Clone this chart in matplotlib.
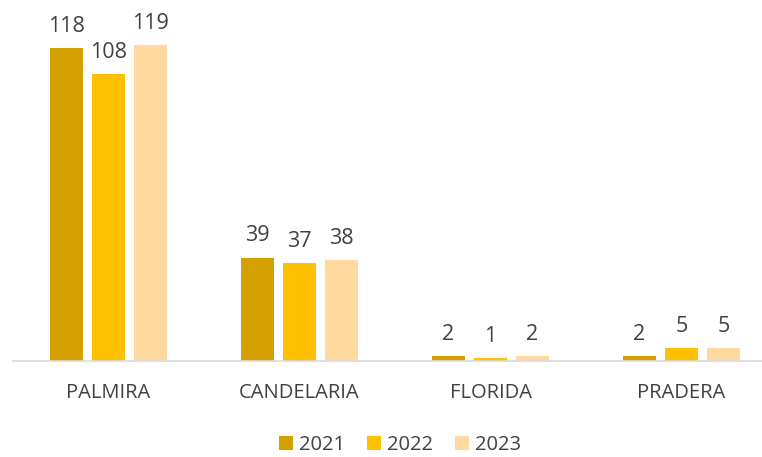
import numpy as np
import matplotlib.pyplot as plt

categories = ["PALMIRA", "CANDELARIA", "FLORIDA", "PRADERA"]
years = ["2021", "2022", "2023"]
v2021 = [118, 39, 2, 2]
v2022 = [108, 37, 1, 5]
v2023 = [119, 38, 2, 5]
colors = ["#D4A000", "#FFC000", "#FFD9A0"]

plt.rcParams['font.family'] = ['Open Sans', 'DejaVu Sans']

W, H = 762, 457
fig = plt.figure(figsize=(W / 100, H / 100), dpi=100)
# axes in pixel units: left 13, bottom 96, width 764, height 345
ax = fig.add_axes([13 / W, 96 / H, 764 / W, 345 / H])

x = np.arange(len(categories))
offs = [-0.22, 0.0, 0.22]
for vals, off, c, yr in zip([v2021, v2022, v2023], offs, colors, years):
    bars = ax.bar(x + off, vals, width=0.173, color=c, label=yr)
    for b, v in zip(bars, vals):
        ax.annotate(str(v), (b.get_x() + b.get_width() / 2, v),
                    xytext=(0, 8), textcoords="offset points",
                    ha="center", va="bottom", fontsize=15.5, color="#404040")

ax.set_xlim(-0.5, 3.5)
ax.set_ylim(0, 130)
ax.set_yticks([])
ax.set_xticks(x)
ax.set_xticklabels(categories, fontsize=14.5, color="#404040")
ax.tick_params(axis="x", length=0, pad=16)
for s in ["top", "right", "left"]:
    ax.spines[s].set_visible(False)
ax.spines["bottom"].set_color("#D9D9D9")
ax.spines["bottom"].set_linewidth(1.2)

fig.legend(loc="center", bbox_to_anchor=(400 / W, 12 / H), ncol=3,
           frameon=False, fontsize=14.5, handlelength=0.7, handleheight=0.7,
           handletextpad=0.3, columnspacing=1.1, labelcolor="#404040",
           borderpad=0)

fig.savefig("out.png", dpi=100)
